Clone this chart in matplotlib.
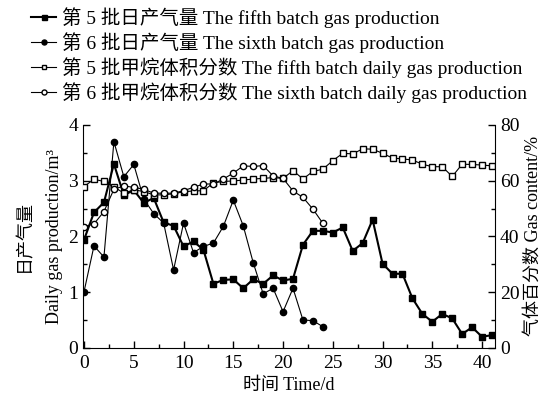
import numpy as np
import matplotlib.pyplot as plt
from matplotlib.ticker import MultipleLocator

plt.rcParams['font.family'] = ['Liberation Serif', 'Noto Sans CJK SC']
plt.rcParams['axes.unicode_minus'] = False

# Data
days5 = list(range(0, 42))
gas5 = [1.94, 2.43, 2.61, 3.30, 2.74, 2.83, 2.60, 2.69, 2.25, 2.19,
        1.82, 1.91, 1.76, 1.15, 1.22, 1.23, 1.07, 1.23, 1.15, 1.30,
        1.21, 1.24, 1.85, 2.10, 2.10, 2.07, 2.16, 1.74, 1.88, 2.30,
        1.51, 1.33, 1.33, 0.89, 0.61, 0.47, 0.61, 0.53, 0.25, 0.37,
        0.20, 0.23]
ch4_5 = [57.9, 60.5, 59.7, 57.8, 55.5, 56.7, 56.1, 54.9, 54.9, 55.3,
         56.0, 56.3, 56.4, 59.2, 59.7, 59.9, 60.2, 60.6, 60.8, 61.1,
         60.8, 63.6, 60.6, 63.3, 64.1, 67.2, 69.8, 69.6, 71.4, 71.3,
         69.8, 68.1, 67.8, 67.4, 65.9, 65.0, 65.0, 61.5, 65.9, 65.8,
         65.6, 65.3]

days6 = list(range(0, 25))
gas6 = [1.01, 1.83, 1.63, 3.70, 3.07, 3.29, 2.67, 2.41, 2.24, 1.40,
        2.24, 1.71, 1.82, 1.88, 2.18, 2.65, 2.19, 1.53, 0.97, 1.07,
        0.65, 1.07, 0.50, 0.49, 0.38]
ch4_6 = [43.5, 44.5, 48.9, 56.9, 58.1, 57.6, 56.9, 55.5, 55.5, 55.5,
         56.4, 57.6, 58.8, 58.8, 60.6, 62.7, 65.3, 65.1, 65.4, 61.7,
         60.8, 56.3, 54.0, 49.8, 44.7]

labels = ['第 5 批日产气量 The fifth batch gas production',
          '第 6 批日产气量 The sixth batch gas production',
          '第 5 批甲烷体积分数 The fifth batch daily gas production',
          '第 6 批甲烷体积分数 The sixth batch daily gas production']

fig = plt.figure(figsize=(5.5, 3.99), dpi=100)
ax = fig.add_axes([0.151, 0.128, 0.749, 0.559])
ax2 = ax.twinx()

l1, = ax.plot(days5, gas5, color='black', lw=1.5, marker='s', ms=4.5, mfc='black')
l2, = ax.plot(days6, gas6, color='black', lw=0.8, marker='o', ms=4.5, mfc='black')
l3, = ax2.plot(days5, ch4_5, color='black', lw=0.8, marker='s', ms=4.2, mfc='white')
l4, = ax2.plot(days6, ch4_6, color='black', lw=0.8, marker='o', ms=4.5, mfc='white')

ax.set_xlim(-0.1, 41.3)
ax.set_ylim(0, 4)
ax2.set_ylim(0, 80)

ax.xaxis.set_major_locator(MultipleLocator(5))
ax.xaxis.set_minor_locator(MultipleLocator(2.5))
ax.yaxis.set_major_locator(MultipleLocator(1))
ax.yaxis.set_minor_locator(MultipleLocator(0.5))
ax2.yaxis.set_major_locator(MultipleLocator(20))
ax2.yaxis.set_minor_locator(MultipleLocator(10))

for a in (ax, ax2):
    a.spines['top'].set_visible(False)
    a.tick_params(which='both', direction='in', labelsize=14, width=1)
    a.tick_params(which='major', length=5)
    a.tick_params(which='minor', length=3)
ax.spines['right'].set_visible(False)
ax2.spines['left'].set_visible(False)
ax2.spines['bottom'].set_visible(False)
ax.tick_params(axis='x', pad=5)

ax.set_xlabel('时间 Time/d', fontsize=13, labelpad=4)
ax.set_ylabel('日产气量\nDaily gas production/m³', fontsize=13, labelpad=4,
              linespacing=2.0)
ax2.set_ylabel('气体百分数 Gas content/%', fontsize=13, labelpad=4)

fig.legend([l1, l2, l3, l4], labels, loc='upper left',
           bbox_to_anchor=(0.035, 1.012), frameon=False, fontsize=14,
           handlelength=1.3, handletextpad=0.3, labelspacing=0.22,
           borderaxespad=0.2, markerscale=0.8)

fig.savefig('out.png', dpi=100)
